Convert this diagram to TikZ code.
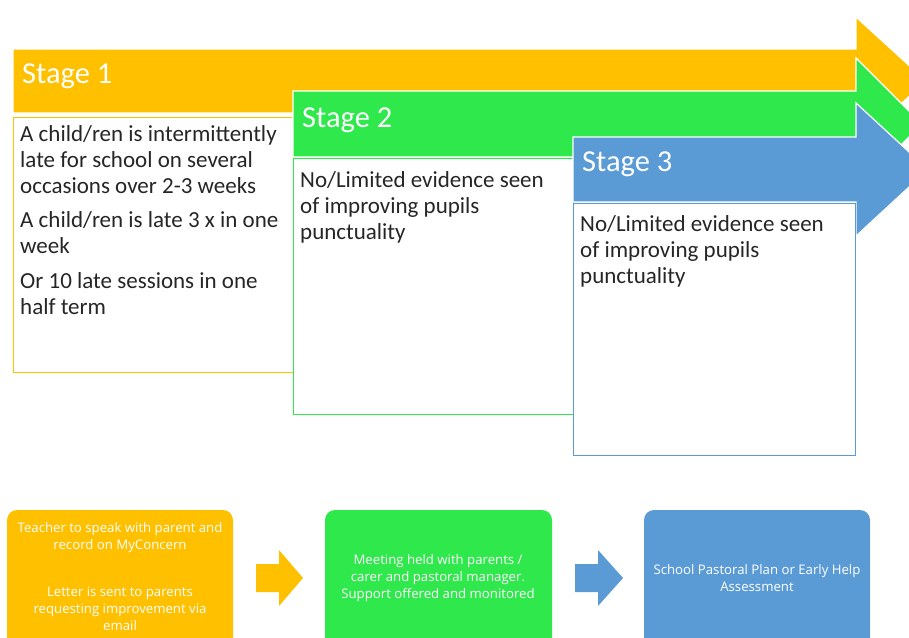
\documentclass[tikz,border=0pt]{standalone}
\usepackage{fontspec}
\setmainfont{Carlito}
\newfontfamily\smallfont{Open Sans}
\definecolor{sorange}{HTML}{FFC000}
\definecolor{sgreen}{HTML}{2FE84B}
\definecolor{sblue}{HTML}{5B9BD5}
\definecolor{txt}{HTML}{262626}
\begin{document}
\begin{tikzpicture}[x=1pt,y=-1pt,
  bigarrow/.style={draw=white, line width=1.2pt, line join=miter},
  stagebox/.style={fill=white, line width=1pt},
  stagelabel/.style={anchor=base west, text=white, font=\fontsize{30.5}{36}\selectfont, inner sep=0pt},
  bodytext/.style={anchor=base west, text=txt, align=left, inner sep=0pt, font=\fontsize{23}{26}\selectfont},
  flowbox/.style={rounded corners=10pt},
  flowtext/.style={text=white, align=center, font=\smallfont\fontsize{13.2}{17}\selectfont, inner sep=0pt},
  smallarrow/.style={line join=miter}]
\useasboundingbox (0,0) rectangle (909,637);
\clip (0,0) rectangle (909,637);
% stage 1
\fill[sorange, bigarrow] (13,49) -- (856,49) -- (856,17) -- (926,81) -- (856,145) -- (856,113) -- (13,113) -- cycle;
\draw[stagebox, draw=sorange] (13,117) rectangle (293,372);
\node[stagelabel] (s1) at (22,83) {Stage 1};
% base anchor = baseline of the last line
\node[bodytext] (t1a) at (20,193) {A child/ren is intermittently\\late for school on several\\occasions over 2-3 weeks};
\node[bodytext] (t1b) at (20,253) {A child/ren is late 3 x in one\\week};
\node[bodytext] (t1c) at (20,314) {Or 10 late sessions in one\\half term};
% stage 2
\fill[sgreen, bigarrow] (293,91) -- (856,91) -- (856,58) -- (922,124) -- (856,190) -- (856,157) -- (293,157) -- cycle;
\draw[stagebox, draw=sgreen] (293,158) rectangle (573,414);
\node[stagelabel] (s2) at (302,127) {Stage 2};
\node[bodytext] (t2) at (300,239) {No/Limited evidence seen\\of improving pupils\\punctuality};
% stage 3
\fill[sblue, bigarrow] (573,137) -- (856,137) -- (856,103) -- (928,169.5) -- (856,236) -- (856,202) -- (573,202) -- cycle;
\draw[stagebox, draw=sblue] (573,203) rectangle (855,455);
\node[stagelabel] (s3) at (582,171) {Stage 3};
\node[bodytext] (t3) at (580,283) {No/Limited evidence seen\\of improving pupils\\punctuality};
% bottom flow
\fill[sorange, flowbox] (7,510) rectangle (233,670);
\fill[sgreen, flowbox] (325,510) rectangle (552,670);
\fill[sblue, flowbox] (644,510) rectangle (870,670);
\node[flowtext] (f1a) at (120,538) {Teacher to speak with parent and\\record on MyConcern};
\node[flowtext] (f1b) at (120,609) {Letter is sent to parents\\requesting improvement via\\email};
\node[flowtext] (f2) at (438,578) {Meeting held with parents /\\carer and pastoral manager.\\Support offered and monitored};
\node[flowtext] (f3) at (757,578) {School Pastoral Plan or Early Help\\Assessment};
\fill[sorange, smallarrow] (256,564) -- (279,564) -- (279,550) -- (303,578) -- (279,606) -- (279,592) -- (256,592) -- cycle;
\fill[sblue, smallarrow] (575,564) -- (598,564) -- (598,550) -- (623,578) -- (598,606) -- (598,592) -- (575,592) -- cycle;
\end{tikzpicture}
\end{document}
